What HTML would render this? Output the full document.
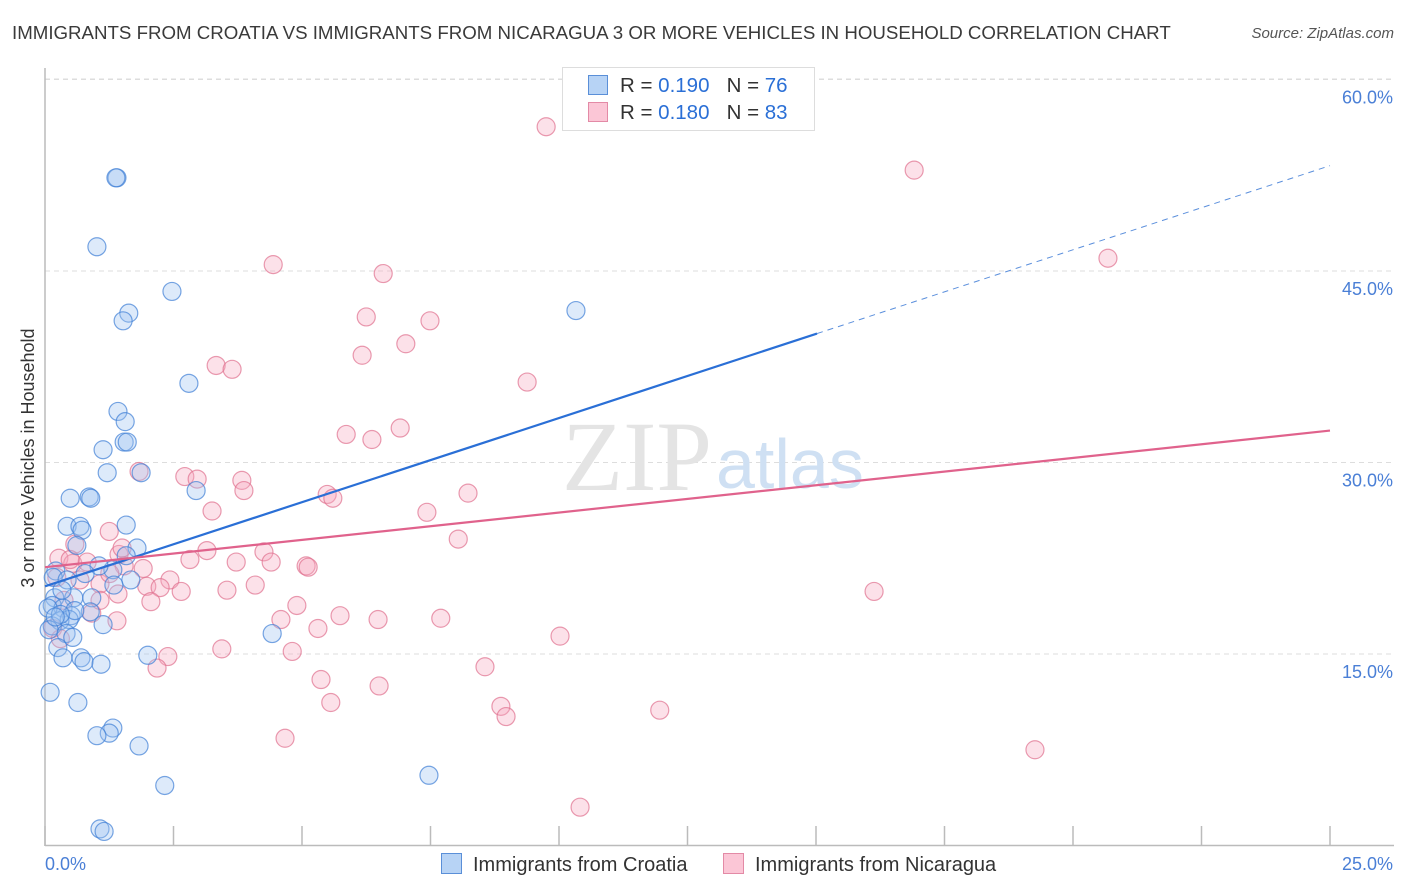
<!DOCTYPE html>
<html><head><meta charset="utf-8"><style>
body{margin:0;background:#fff;font-family:"Liberation Sans",sans-serif;}
#wrap{position:relative;width:1406px;height:892px;overflow:hidden;}
.t{position:absolute;white-space:nowrap;}
</style></head><body>
<div id="wrap">
<div class="t" style="left:12px;top:22px;font-size:18.7px;color:#3a3a3a;">IMMIGRANTS FROM CROATIA VS IMMIGRANTS FROM NICARAGUA 3 OR MORE VEHICLES IN HOUSEHOLD CORRELATION CHART</div>
<div class="t" style="right:12px;top:25px;font-size:15px;color:#555;font-style:italic;">Source: ZipAtlas.com</div>
<svg id="svg" width="1406" height="892" style="position:absolute;left:0;top:0"></svg>
</div>
<script>
const xTicks=[0,25];
const yTicks=[15,30,45,60];
const croatiaX=[1.40,1.38,1.01,2.47,1.63,1.52,10.33,2.80,1.42,1.56,1.54,1.60,1.13,1.21,1.87,0.49,0.86,0.89,2.94,0.43,0.68,0.72,1.58,0.62,1.79,1.58,1.32,0.21,0.16,1.05,0.78,1.67,0.43,1.34,0.19,0.56,0.91,0.14,0.35,0.06,0.88,0.51,0.29,1.13,0.47,0.14,0.08,0.41,4.42,0.54,0.25,0.35,0.70,0.76,1.09,2.00,0.10,0.64,1.32,1.25,1.01,1.83,2.33,7.47,1.07,1.15,0.33,0.58,0.30,0.20];
const croatiaY=[52.3,52.3,46.9,43.4,41.7,41.1,41.9,36.2,34.0,33.2,31.6,31.6,31.0,29.2,29.2,27.2,27.3,27.2,27.8,25.0,25.0,24.7,25.1,23.5,23.3,22.7,21.6,21.5,21.0,21.9,21.3,20.8,20.8,20.4,19.4,19.4,19.4,18.8,18.6,18.6,18.3,18.0,17.6,17.3,17.7,17.2,16.9,16.6,16.6,16.3,15.5,14.7,14.7,14.4,14.2,14.9,12.0,11.2,9.2,8.8,8.6,7.8,4.7,5.5,1.3,1.1,20.0,18.4,18.1,17.9];
const nicaraguaX=[9.75,16.91,20.68,4.44,6.58,6.25,7.49,6.17,7.02,3.33,3.64,9.38,5.86,6.36,6.91,1.83,2.72,2.96,3.83,3.87,5.49,5.60,8.23,3.25,7.43,1.25,8.04,0.58,0.27,1.44,3.15,4.26,2.82,3.72,4.40,5.08,0.54,0.82,1.91,1.54,1.07,1.98,2.43,2.24,4.09,3.54,2.06,2.65,1.42,4.90,0.91,1.40,5.74,6.48,7.70,4.59,10.02,5.31,16.13,3.44,4.81,2.39,2.18,8.56,5.37,6.50,8.87,8.97,5.56,11.96,4.67,19.26,10.41,0.23,0.37,0.68,1.07,0.49,1.26,1.50,5.12,0.15,0.30];
const nicaraguaY=[56.3,52.9,46.0,45.5,44.8,41.4,41.1,38.4,39.3,37.6,37.3,36.3,32.2,31.8,32.7,29.3,28.9,28.7,28.6,27.8,27.5,27.2,27.6,26.2,26.1,24.6,24.0,23.6,22.5,22.8,23.1,23.0,22.4,22.2,22.2,21.9,22.1,22.2,21.7,21.9,20.5,20.3,20.8,20.2,20.4,20.0,19.1,19.9,19.7,18.8,18.2,17.6,18.0,17.7,17.8,17.7,16.4,17.0,19.9,15.4,15.2,14.8,13.9,14.0,13.0,12.5,10.9,10.1,11.2,10.6,8.4,7.5,3.0,21.0,19.2,20.8,19.2,22.4,21.3,23.3,21.8,17.0,16.2];
const croatiaTrend=[[0,20.3],[15.02,40.1],[25,53.25]];
const nicaraguaTrend=[[0,21.8],[25,32.5]];
const X=v=>45+v/25*1285;
const Y=v=>845.5-v/15*191.5;
const svg=document.getElementById('svg');
const NS='http://www.w3.org/2000/svg';
function mk(tag,attrs,parent){const e=document.createElementNS(NS,tag);for(const k in attrs)e.setAttribute(k,attrs[k]);(parent||svg).appendChild(e);return e;}
yTicks.forEach(v=>{
 const g=mk('line',{x1:45,x2:1394,y1:Y(v),y2:Y(v),stroke:'#ddd','stroke-dasharray':'5,4'});
 
 
 const t=mk('text',{x:1393,y:Y(v)+24,'text-anchor':'end','font-size':18,fill:'#4a7fd6','font-family':'Liberation Sans, sans-serif'});
 t.textContent=v.toFixed(1)+'%';
 
 
});
mk('line',{x1:45,x2:1394,y1:79,y2:79,stroke:'#ddd','stroke-dasharray':'5,4'});
mk('line',{x1:45,x2:45,y1:68,y2:846,stroke:'#bbb','stroke-width':1.5});
mk('line',{x1:45,x2:1394,y1:845.5,y2:845.5,stroke:'#bbb','stroke-width':1.5});
for(let i=0;i<=10;i++){const xx=X(i*2.5);const tk=mk('line',{x1:xx,x2:xx,y1:826,y2:846,stroke:'#bbb','stroke-width':1.5});
 
 }
xTicks.forEach((v,i)=>{const t=mk('text',{x:i==0?45:1393,y:870,'text-anchor':i==0?'start':'end','font-size':18,fill:'#4a7fd6','font-family':'Liberation Sans, sans-serif'});t.textContent=v.toFixed(1)+'%';
 
 });
const yl=mk('text',{x:0,y:0,transform:'translate(34,458) rotate(-90)','text-anchor':'middle','font-size':18,fill:'#333','font-family':'Liberation Sans, sans-serif'});
yl.textContent='3 or more Vehicles in Household';


const wm=mk('text',{x:712,y:490,'text-anchor':'end','font-size':100,fill:'#e4e4e4','font-family':'Liberation Serif, serif'});wm.textContent='ZIP';


const wm2=mk('text',{x:716,y:488,'font-size':70,fill:'#cfe0f3','font-family':'Liberation Sans, sans-serif'});wm2.textContent='atlas';


function pts(xs,ys,fill,stroke,name){xs.forEach((x,i)=>{const c=mk('circle',{cx:X(x),cy:Y(ys[i]),r:9,fill:fill,'fill-opacity':0.35,stroke:stroke,'stroke-opacity':0.7,'stroke-width':1.2});
 
 });}
pts(nicaraguaX,nicaraguaY,'#f7a8c0','#e0708f','nicaragua-point');
pts(croatiaX,croatiaY,'#9ec3f0','#3f7fd6','croatia-point');
const b1=mk('line',{x1:X(croatiaTrend[0][0]),y1:Y(croatiaTrend[0][1]),x2:X(croatiaTrend[1][0]),y2:Y(croatiaTrend[1][1]),stroke:'#2a6fd6','stroke-width':2.2});


const b2=mk('line',{x1:X(croatiaTrend[1][0]),y1:Y(croatiaTrend[1][1]),x2:X(croatiaTrend[2][0]),y2:Y(croatiaTrend[2][1]),stroke:'#5b8fdc','stroke-width':1,'stroke-dasharray':'6,5'});


const p1=mk('line',{x1:X(nicaraguaTrend[0][0]),y1:Y(nicaraguaTrend[0][1]),x2:X(nicaraguaTrend[1][0]),y2:Y(nicaraguaTrend[1][1]),stroke:'#e0628c','stroke-width':2.2});


</script>
<div class="t" style="left:562px;top:67px;width:251px;height:62px;border:1px solid #ddd;background:#fff;"></div>
<div class="t" style="left:588px;top:74px;font-size:20.5px;color:#333;"><span style="display:inline-block;width:18px;height:18px;background:#b7d3f5;border:1px solid #5a8fd8;vertical-align:-3px;margin-right:12px;"></span>R = <span style="color:#2a6fd6">0.190</span>&nbsp;&nbsp;&nbsp;N = <span style="color:#2a6fd6">76</span></div>
<div class="t" style="left:588px;top:101px;font-size:20.5px;color:#333;"><span style="display:inline-block;width:18px;height:18px;background:#fbc6d6;border:1px solid #e38aa6;vertical-align:-3px;margin-right:12px;"></span>R = <span style="color:#2a6fd6">0.180</span>&nbsp;&nbsp;&nbsp;N = <span style="color:#2a6fd6">83</span></div>
<div class="t" style="left:441px;top:853px;font-size:20px;color:#333;"><span style="display:inline-block;width:19px;height:19px;background:#b7d3f5;border:1px solid #5a8fd8;vertical-align:-3px;margin-right:11px;"></span>Immigrants from Croatia</div>
<div class="t" style="left:723px;top:853px;font-size:20px;color:#333;"><span style="display:inline-block;width:19px;height:19px;background:#fbc6d6;border:1px solid #e38aa6;vertical-align:-3px;margin-right:11px;"></span>Immigrants from Nicaragua</div>
</body></html>
